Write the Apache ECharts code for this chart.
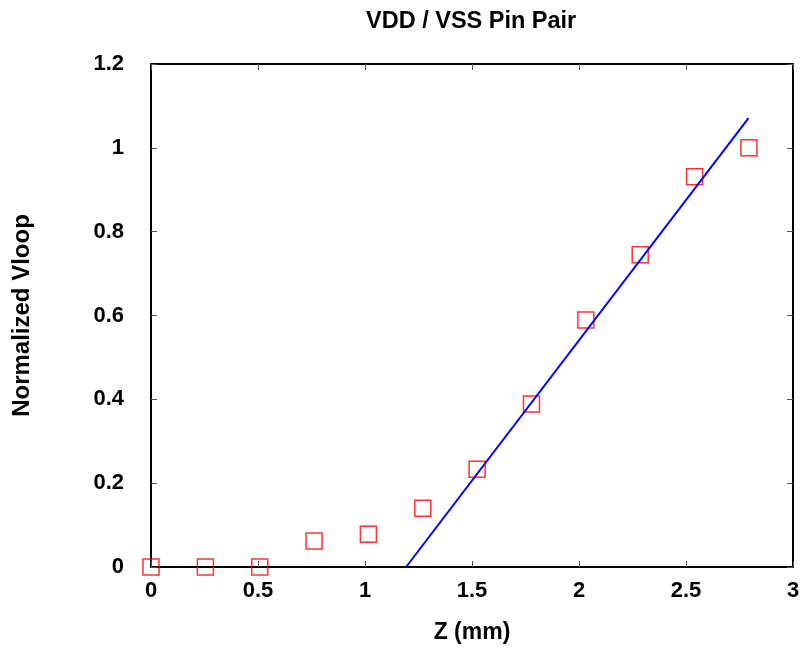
<!DOCTYPE html>
<html>
<head>
<meta charset="utf-8">
<script src="https://cdn.jsdelivr.net/npm/echarts@6/dist/echarts.min.js"></script>
<style>html,body{margin:0;padding:0;background:#fff;}#c{width:806px;height:651px;}</style>
</head>
<body>
<div id="c"></div>
<script>
var zValues = [0, 0.254, 0.508, 0.762, 1.016, 1.27, 1.524, 1.778, 2.032, 2.286, 2.54, 2.794];
var vloopValues = [0, 0, 0, 0.062, 0.078, 0.140, 0.233, 0.389, 0.589, 0.745, 0.931, 1.0];
var fitLineX = [1.192, 2.792];
var fitLineY = [0, 1.071];
var xTicks = {min: 0, max: 3, interval: 0.5};
var yTicks = {min: 0, max: 1.2, interval: 0.2};

var FONT = '"Liberation Sans", Arial, sans-serif';
var chart = echarts.init(document.getElementById('c'), null, {renderer: 'canvas'});

function axisCommon(extra) {
  var a = {
    axisLine: {show: true, onZero: false, lineStyle: {color: '#000', width: 2}},
    axisTick: {show: true, inside: true, length: 6, lineStyle: {color: '#555', width: 1}},
    splitLine: {show: false}
  };
  for (var k in extra) a[k] = extra[k];
  return a;
}

var option = {
  animation: false,
  backgroundColor: '#fff',
  title: {
    text: 'VDD / VSS Pin Pair',
    left: 361, top: 5,
    textStyle: {fontFamily: FONT, fontWeight: 'bold', fontSize: 23.5, color: '#000'}
  },
  grid: {left: 151, top: 64, right: 13, bottom: 84},
  xAxis: [
    axisCommon({
      type: 'value', position: 'bottom', min: xTicks.min, max: xTicks.max, interval: xTicks.interval,
      name: 'Z (mm)', nameLocation: 'middle', nameGap: 54,
      nameTextStyle: {fontFamily: FONT, fontWeight: 'bold', fontSize: 23, color: '#000'},
      axisLabel: {margin: 13, fontFamily: FONT, fontWeight: 'bold', fontSize: 22, color: '#000',
        formatter: function (v) { return String(+v.toFixed(2)); }}
    }),
    axisCommon({
      type: 'value', position: 'top', min: xTicks.min, max: xTicks.max, interval: xTicks.interval,
      axisLabel: {show: false}
    })
  ],
  yAxis: [
    axisCommon({
      type: 'value', position: 'left', min: yTicks.min, max: yTicks.max, interval: yTicks.interval,
      name: 'Normalized Vloop', nameLocation: 'middle', nameGap: 117, nameRotate: 90,
      nameTextStyle: {fontFamily: FONT, fontWeight: 'bold', fontSize: 24, color: '#000'},
      axisLabel: {margin: 27, fontFamily: FONT, fontWeight: 'bold', fontSize: 22, color: '#000',
        formatter: function (v) { return String(+v.toFixed(2)); }}
    }),
    axisCommon({
      type: 'value', position: 'right', min: yTicks.min, max: yTicks.max, interval: yTicks.interval,
      axisLabel: {show: false}
    })
  ],
  series: [
    {
      type: 'scatter',
      xAxisIndex: 0, yAxisIndex: 0,
      data: zValues.map(function (z, i) { return [z, vloopValues[i]]; }),
      symbol: 'rect', symbolSize: 16,
      clip: false,
      itemStyle: {color: 'rgba(0,0,0,0)', borderColor: '#ff0000', borderWidth: 1.5},
      z: 3
    },
    {
      type: 'line',
      xAxisIndex: 0, yAxisIndex: 0,
      data: fitLineX.map(function (x, i) { return [x, fitLineY[i]]; }),
      showSymbol: false, symbol: 'none',
      clip: false,
      lineStyle: {color: '#0000ff', width: 2},
      z: 4
    }
  ]
};
chart.setOption(option);
</script>
</body>
</html>
